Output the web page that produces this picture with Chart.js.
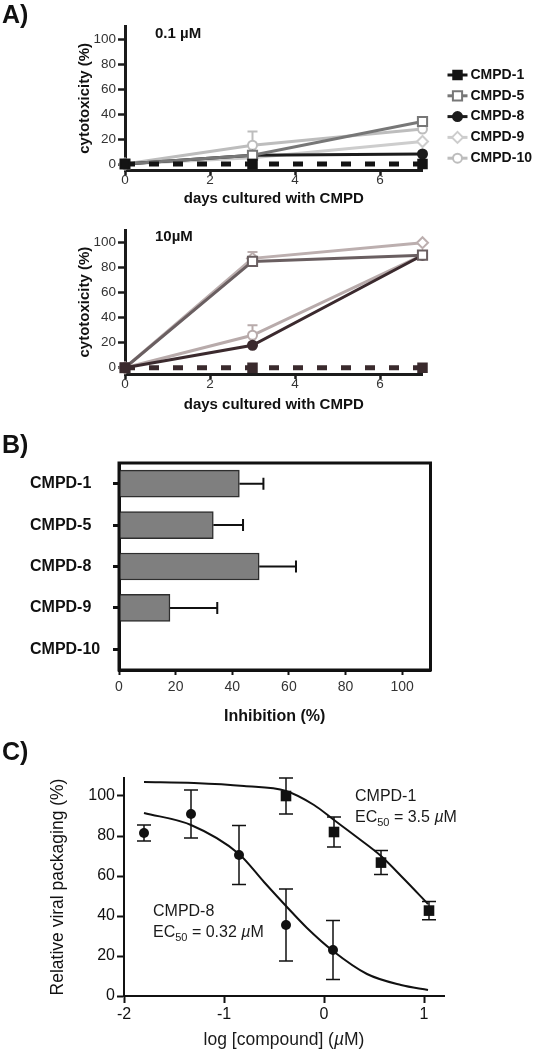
<!DOCTYPE html>
<html>
<head>
<meta charset="utf-8">
<title>CMPD cytotoxicity, inhibition and dose response</title>
<script src="https://cdn.jsdelivr.net/npm/chart.js@4.4.1/dist/chart.umd.min.js"></script>
<style>
  html, body { margin: 0; padding: 0; background: #fff; }
  body { position: relative; width: 538px; height: 1050px; overflow: hidden; font-family: "Liberation Sans", Arial, sans-serif; }
  canvas { position: absolute; left: 0; }
  .tag { position: absolute; left: 2px; font-size: 25px; line-height: 25px; font-weight: bold; color: #111; }
</style>
</head>
<body>
<canvas id="chartLow" width="538" height="215" style="top:0"></canvas>
<canvas id="chartHigh" width="538" height="210" style="top:215px"></canvas>
<canvas id="chartInhib" width="538" height="310" style="top:425px"></canvas>
<canvas id="chartDose" width="538" height="315" style="top:735px"></canvas>
<div class="tag" style="top:2px">A)</div>
<div class="tag" style="top:432px">B)</div>
<div class="tag" style="top:739px">C)</div>
<script>
const FONT = '"Liberation Sans", Arial, Helvetica, sans-serif';

// ── Panel A data: % cytotoxicity at day 0 / 3 / 7 ──
const DAYS = [0, 3, 7];
const COMPOUNDS = ['CMPD-1', 'CMPD-5', 'CMPD-8', 'CMPD-9', 'CMPD-10'];
const A_X_TICKS = [0, 2, 4, 6];
const A_Y_TICKS = [0, 20, 40, 60, 80, 100];

// 0.1 µM
const LOW_CMPD1 = [0, 0, 0];
const LOW_CMPD5 = [0, 7, 34];
const LOW_CMPD8 = [0, 7, 8];
const LOW_CMPD9 = [0, 5, 18];
const LOW_CMPD10 = [0, 15, 28];
const LOW_ERR10 = [0, 11, 0];

// 10 µM
const HIGH_CMPD1 = [0, 0, 0];
const HIGH_CMPD5 = [0, 85, 90];
const HIGH_CMPD8 = [0, 18, 90];
const HIGH_CMPD9 = [0, 87.5, 100];
const HIGH_CMPD10 = [0, 26, 90];
const HIGH_ERR9 = [0, 5, 0];
const HIGH_ERR10 = [0, 8, 0];
const NO_ERR = [0, 0, 0];

// ── Panel B data: inhibition (%) ──
const INHIB_LABELS = ['CMPD-1', 'CMPD-5', 'CMPD-8', 'CMPD-9', 'CMPD-10'];
const INHIB_VALUES = [42.5, 33.3, 49.5, 18, 0];
const INHIB_ERRORS = [8.5, 10.5, 13, 16.7, 0];
const B_X_TICKS = [0, 20, 40, 60, 80, 100];

// ── Panel C data: relative viral packaging vs log [compound] ──
const DOSE_X_TICKS = [-2, -1, 0, 1];
const DOSE_Y_TICKS = [0, 20, 40, 60, 80, 100];
const CMPD1_LOGC = [-0.38, 0.10, 0.57, 1.05];
const CMPD1_PACK = [100, 82, 66.7, 42.7];
const CMPD1_ERR = [9, 7.5, 6, 4.6];
const CMPD8_LOGC = [-1.80, -1.33, -0.85, -0.38, 0.09];
const CMPD8_PACK = [81.5, 91, 70.5, 35.5, 23];
const CMPD8_ERR = [4, 12, 14.8, 18, 14.7];
const CMPD1_FIT_LOGC = [-1.80, -1.30, -0.80, -0.38, -0.10, 0.10, 0.34, 0.57, 0.80, 1.04];
const CMPD1_FIT_PACK = [107, 106.5, 105, 102.5, 95.5, 88, 79, 70, 58.5, 46];
const CMPD8_FIT_LOGC = [-1.80, -1.33, -0.85, -0.60, -0.38, -0.17, 0.09, 0.43, 0.77, 1.04];
const CMPD8_FIT_PACK = [91.5, 85.5, 71, 57, 45, 34, 22.5, 11, 5.5, 3];

// styles
const POINT_STYLES = ['rect', 'rect', 'circle', 'rectRot', 'circle'];
const POINT_FILLED = [true, false, true, false, false];
const POINT_RADII = [6, 6.5, 4.5, 5.5, 4.5];
const LOW_COLORS = ['#141414', '#777777', '#1c1c1c', '#cdcdcd', '#bdbdbd'];
const HIGH_COLORS = ['#3a2a2d', '#6a5f61', '#3b2a2e', '#bcafaf', '#b8abab'];

/* ═══ HELPERS ═══ */
const tickList = arr => scale => { scale.ticks = arr.map(v => ({ value: v })); };

function drawMarker(ctx, style, x, y, r, stroke, fill, lw) {
  ctx.beginPath();
  if (style === 'rect') {
    const s = r * Math.SQRT1_2;
    ctx.rect(x - s, y - s, 2 * s, 2 * s);
  } else if (style === 'rectRot') {
    ctx.moveTo(x, y - r); ctx.lineTo(x + r, y); ctx.lineTo(x, y + r); ctx.lineTo(x - r, y); ctx.closePath();
  } else {
    ctx.arc(x, y, r, 0, Math.PI * 2);
  }
  ctx.fillStyle = fill; ctx.fill();
  ctx.lineWidth = lw; ctx.strokeStyle = stroke; ctx.stroke();
}

function drawRich(ctx, parts, x, y, align) {
  let w = 0;
  parts.forEach(p => { ctx.font = p.font; w += ctx.measureText(p.text).width; });
  let cx = align === 'center' ? x - w / 2 : x;
  parts.forEach(p => {
    ctx.font = p.font;
    ctx.fillText(p.text, cx, y + (p.dy || 0));
    cx += ctx.measureText(p.text).width;
  });
}

/* ═══ PLUGINS ═══ */
const errorBarsPlugin = {
  id: 'errorBars',
  beforeDatasetsDraw(chart, args, opts) {
    const { ctx, scales } = chart;
    const horizontal = chart.options.indexAxis === 'y';
    chart.data.datasets.forEach((ds, i) => {
      if (!ds.errors) return;
      const meta = chart.getDatasetMeta(i);
      ctx.save();
      ctx.strokeStyle = opts.color || ds.borderColor;
      ctx.lineWidth = opts.width;
      ctx.beginPath();
      meta.data.forEach((el, j) => {
        const err = ds.errors[j];
        if (!err) return;
        if (horizontal) {
          const v = ds.data[j];
          const x1 = scales.x.getPixelForValue(v + err);
          ctx.moveTo(el.x, el.y); ctx.lineTo(x1, el.y);
          ctx.moveTo(x1, el.y - opts.cap); ctx.lineTo(x1, el.y + opts.cap);
        } else {
          const v = ds.data[j].y;
          const yTop = scales.y.getPixelForValue(v + err);
          const yBot = scales.y.getPixelForValue(v - err);
          ctx.moveTo(el.x, yTop); ctx.lineTo(el.x, yBot);
          ctx.moveTo(el.x - opts.cap, yTop); ctx.lineTo(el.x + opts.cap, yTop);
          ctx.moveTo(el.x - opts.cap, yBot); ctx.lineTo(el.x + opts.cap, yBot);
        }
      });
      ctx.stroke();
      ctx.restore();
    });
  }
};

const panelTitlePlugin = {
  id: 'panelTitle',
  afterDraw(chart, args, opts) {
    if (!opts.text) return;
    const { ctx, chartArea } = chart;
    ctx.save();
    ctx.font = `bold 15px ${FONT}`;
    ctx.fillStyle = '#111';
    ctx.textBaseline = 'middle';
    ctx.fillText(opts.text, chartArea.left + 30, chartArea.top + 7);
    ctx.restore();
  }
};

const sideLegendPlugin = {
  id: 'sideLegend',
  afterDraw(chart, args, opts) {
    if (!opts.display) return;
    const { ctx, chartArea } = chart;
    chart.data.datasets.forEach((ds, i) => {
      const y = chartArea.top + 48.5 + i * 20.8;
      const x0 = chartArea.right + 25;
      ctx.save();
      ctx.strokeStyle = ds.borderColor;
      ctx.lineWidth = 3;
      ctx.beginPath(); ctx.moveTo(x0, y); ctx.lineTo(x0 + 20, y); ctx.stroke();
      drawMarker(ctx, ds.pointStyle, x0 + 10, y, ds.pointRadius, ds.pointBorderColor, ds.pointBackgroundColor, 2);
      ctx.font = `bold 14px ${FONT}`;
      ctx.fillStyle = '#111';
      ctx.textBaseline = 'middle';
      ctx.fillText(ds.label, x0 + 23, y);
      ctx.restore();
    });
  }
};

const framePlugin = {
  id: 'frame',
  afterDatasetsDraw(chart, args, opts) {
    const { ctx, chartArea: a } = chart;
    ctx.save();
    ctx.lineWidth = opts.width;
    ctx.strokeStyle = opts.color;
    ctx.strokeRect(a.left, a.top, a.right - a.left, a.bottom - a.top);
    ctx.restore();
  }
};

const DOSE_NOTES = [
  { name: 'CMPD-1', ec50: '3.5', at: [0.31, 99.5] },
  { name: 'CMPD-8', ec50: '0.32', at: [-1.71, 42] }
];

const doseTextPlugin = {
  id: 'doseText',
  afterDraw(chart) {
    const { ctx, chartArea, scales: { x, y } } = chart;
    const reg = `16px ${FONT}`, ital = `italic 16px ${FONT}`, sub = `11px ${FONT}`;
    ctx.save();
    ctx.fillStyle = '#1a1a1a';
    ctx.textBaseline = 'middle';
    DOSE_NOTES.forEach(n => {
      const px = x.getPixelForValue(n.at[0]);
      const py = y.getPixelForValue(n.at[1]);
      ctx.font = reg;
      ctx.fillText(n.name, px, py);
      drawRich(ctx, [
        { text: 'EC', font: reg },
        { text: '50', font: sub, dy: 5 },
        { text: ' = ' + n.ec50 + ' ', font: reg },
        { text: 'µ', font: ital },
        { text: 'M', font: reg }
      ], px, py + 21, 'left');
    });
    // x-axis title with italic µ
    const big = `17.5px ${FONT}`, bigI = `italic 17.5px ${FONT}`;
    drawRich(ctx, [
      { text: 'log [compound] (', font: big },
      { text: 'µ', font: bigI },
      { text: 'M)', font: big }
    ], (chartArea.left + chartArea.right) / 2, chartArea.bottom + 44, 'center');
    ctx.restore();
  }
};

/* ═══ PANEL A ═══ */
function timeDatasets(values, errors, colors) {
  return COMPOUNDS.map((name, i) => ({
    label: name,
    data: DAYS.map((d, j) => ({ x: d, y: values[i][j] })),
    errors: errors[i],
    borderColor: colors[i],
    backgroundColor: POINT_FILLED[i] ? colors[i] : '#fff',
    borderWidth: i === 0 ? 5 : 3,
    borderDash: i === 0 ? [10, 14] : [],
    pointStyle: POINT_STYLES[i],
    pointRadius: POINT_RADII[i],
    pointBorderWidth: 2,
    pointBorderColor: colors[i],
    pointBackgroundColor: POINT_FILLED[i] ? colors[i] : '#fff',
    tension: 0,
    clip: false
  }));
}

function timeChart(id, values, errors, colors, title, box, showLegend) {
  return new Chart(document.getElementById(id), {
    type: 'line',
    data: { datasets: timeDatasets(values, errors, colors) },
    options: {
      responsive: false,
      animation: false,
      events: [],
      layout: { padding: { left: 70, top: box.top, right: 115.5, bottom: 0 } },
      plugins: {
        legend: { display: false },
        tooltip: { enabled: false },
        errorBars: { width: 2, cap: 5 },
        panelTitle: { text: title },
        sideLegend: { display: showLegend }
      },
      scales: {
        x: {
          type: 'linear', min: 0, max: 7,
          afterBuildTicks: tickList(A_X_TICKS),
          afterFit: s => { s.height = box.xHeight; },
          border: { color: '#1b1b1b', width: 3 },
          grid: { drawOnChartArea: false, tickLength: 5, tickWidth: 2.5, tickColor: '#1b1b1b' },
          ticks: { padding: -3, color: '#333', font: { family: FONT, size: 13.5 } },
          title: {
            display: true, text: 'days cultured with CMPD', color: '#111',
            font: { family: FONT, size: 15, weight: 'bold' },
            padding: { top: 0, bottom: box.titlePad }
          }
        },
        y: {
          type: 'linear', min: -5, max: 110,
          afterBuildTicks: tickList(A_Y_TICKS),
          afterFit: s => { s.width = 55; },
          border: { color: '#1b1b1b', width: 3 },
          grid: { drawOnChartArea: false, tickLength: 7, tickWidth: 2.5, tickColor: '#1b1b1b' },
          ticks: { padding: 2, color: '#333', font: { family: FONT, size: 13.5 } },
          title: {
            display: true, text: 'cytotoxicity (%)', color: '#111',
            font: { family: FONT, size: 15, weight: 'bold' },
            padding: { top: 6, bottom: 0 }
          }
        }
      }
    },
    plugins: [errorBarsPlugin, panelTitlePlugin, sideLegendPlugin]
  });
}

timeChart('chartLow',
  [LOW_CMPD1, LOW_CMPD5, LOW_CMPD8, LOW_CMPD9, LOW_CMPD10],
  [NO_ERR, NO_ERR, NO_ERR, NO_ERR, LOW_ERR10],
  LOW_COLORS, '0.1 µM', { top: 26.5, xHeight: 44.75, titlePad: 7 }, true);

timeChart('chartHigh',
  [HIGH_CMPD1, HIGH_CMPD5, HIGH_CMPD8, HIGH_CMPD9, HIGH_CMPD10],
  [NO_ERR, NO_ERR, NO_ERR, HIGH_ERR9, HIGH_ERR10],
  HIGH_COLORS, '10µM', { top: 15.2, xHeight: 51, titlePad: 11 }, false);

/* ═══ PANEL B ═══ */
new Chart(document.getElementById('chartInhib'), {
  type: 'bar',
  data: {
    labels: INHIB_LABELS,
    datasets: [{
      data: INHIB_VALUES,
      errors: INHIB_ERRORS,
      backgroundColor: '#7f7f7f',
      borderColor: '#2e2e2e',
      borderWidth: 1.5,
      borderSkipped: 'start',
      barThickness: 27
    }]
  },
  options: {
    indexAxis: 'y',
    responsive: false,
    animation: false,
    events: [],
    layout: { padding: { left: 30, top: 38, right: 107.5, bottom: 0 } },
    plugins: {
      legend: { display: false },
      tooltip: { enabled: false },
      errorBars: { width: 2, cap: 6, color: '#111' },
      frame: { width: 3, color: '#111' }
    },
    scales: {
      x: {
        type: 'linear', min: 0, max: 110,
        afterBuildTicks: tickList(B_X_TICKS),
        afterFit: s => { s.height = 65; },
        border: { color: '#111', width: 3 },
        grid: { drawOnChartArea: false, tickLength: 5, tickWidth: 2, tickColor: '#111' },
        ticks: { padding: 3.6, color: '#333', font: { family: FONT, size: 14 } },
        title: {
          display: true, text: 'Inhibition (%)', color: '#111',
          font: { family: FONT, size: 16, weight: 'bold' },
          padding: { top: 0, bottom: 8.4 }
        }
      },
      y: {
        afterFit: s => { s.width = 89; },
        border: { color: '#111', width: 3 },
        grid: { drawOnChartArea: false, offset: false, tickLength: 6, tickWidth: 3, tickColor: '#111' },
        ticks: { crossAlign: 'far', color: '#111', font: { family: FONT, size: 16, weight: 'bold' } }
      }
    }
  },
  plugins: [errorBarsPlugin, framePlugin]
});

/* ═══ PANEL C ═══ */
const toPoints = (xs, ys) => xs.map((v, i) => ({ x: v, y: ys[i] }));

new Chart(document.getElementById('chartDose'), {
  type: 'scatter',
  data: {
    datasets: [
      {
        label: 'CMPD-1', data: toPoints(CMPD1_LOGC, CMPD1_PACK), errors: CMPD1_ERR,
        pointStyle: 'rect', pointRadius: 7.5, borderWidth: 0,
        backgroundColor: '#111', borderColor: '#111', clip: false
      },
      {
        label: 'CMPD-8', data: toPoints(CMPD8_LOGC, CMPD8_PACK), errors: CMPD8_ERR,
        pointStyle: 'circle', pointRadius: 5, borderWidth: 0,
        backgroundColor: '#111', borderColor: '#111', clip: false
      },
      {
        label: 'CMPD-1 fit', data: toPoints(CMPD1_FIT_LOGC, CMPD1_FIT_PACK),
        showLine: true, pointRadius: 0, borderWidth: 2, borderColor: '#111',
        cubicInterpolationMode: 'monotone', clip: false
      },
      {
        label: 'CMPD-8 fit', data: toPoints(CMPD8_FIT_LOGC, CMPD8_FIT_PACK),
        showLine: true, pointRadius: 0, borderWidth: 2, borderColor: '#111',
        cubicInterpolationMode: 'monotone', clip: false
      }
    ]
  },
  options: {
    responsive: false,
    animation: false,
    events: [],
    layout: { padding: { left: 40, top: 43, right: 94, bottom: 0 } },
    plugins: {
      legend: { display: false },
      tooltip: { enabled: false },
      errorBars: { width: 1.5, cap: 7, color: '#111' }
    },
    scales: {
      x: {
        type: 'linear', min: -2, max: 1.2,
        afterBuildTicks: tickList(DOSE_X_TICKS),
        afterFit: s => { s.height = 54; },
        border: { color: '#111', width: 2 },
        grid: { drawOnChartArea: false, tickLength: 7, tickWidth: 2, tickColor: '#111' },
        ticks: { padding: 2, color: '#111', font: { family: FONT, size: 16 } }
      },
      y: {
        type: 'linear', min: 0, max: 109,
        afterBuildTicks: tickList(DOSE_Y_TICKS),
        afterFit: s => { s.width = 84; },
        border: { color: '#111', width: 2 },
        grid: { drawOnChartArea: false, tickLength: 7, tickWidth: 2, tickColor: '#111' },
        ticks: { padding: 2, color: '#111', font: { family: FONT, size: 16 } },
        title: {
          display: true, text: 'Relative viral packaging (%)', color: '#111',
          font: { family: FONT, size: 17.5 },
          padding: { top: 7.5, bottom: 0 }
        }
      }
    }
  },
  plugins: [errorBarsPlugin, doseTextPlugin]
});
</script>
</body>
</html>
